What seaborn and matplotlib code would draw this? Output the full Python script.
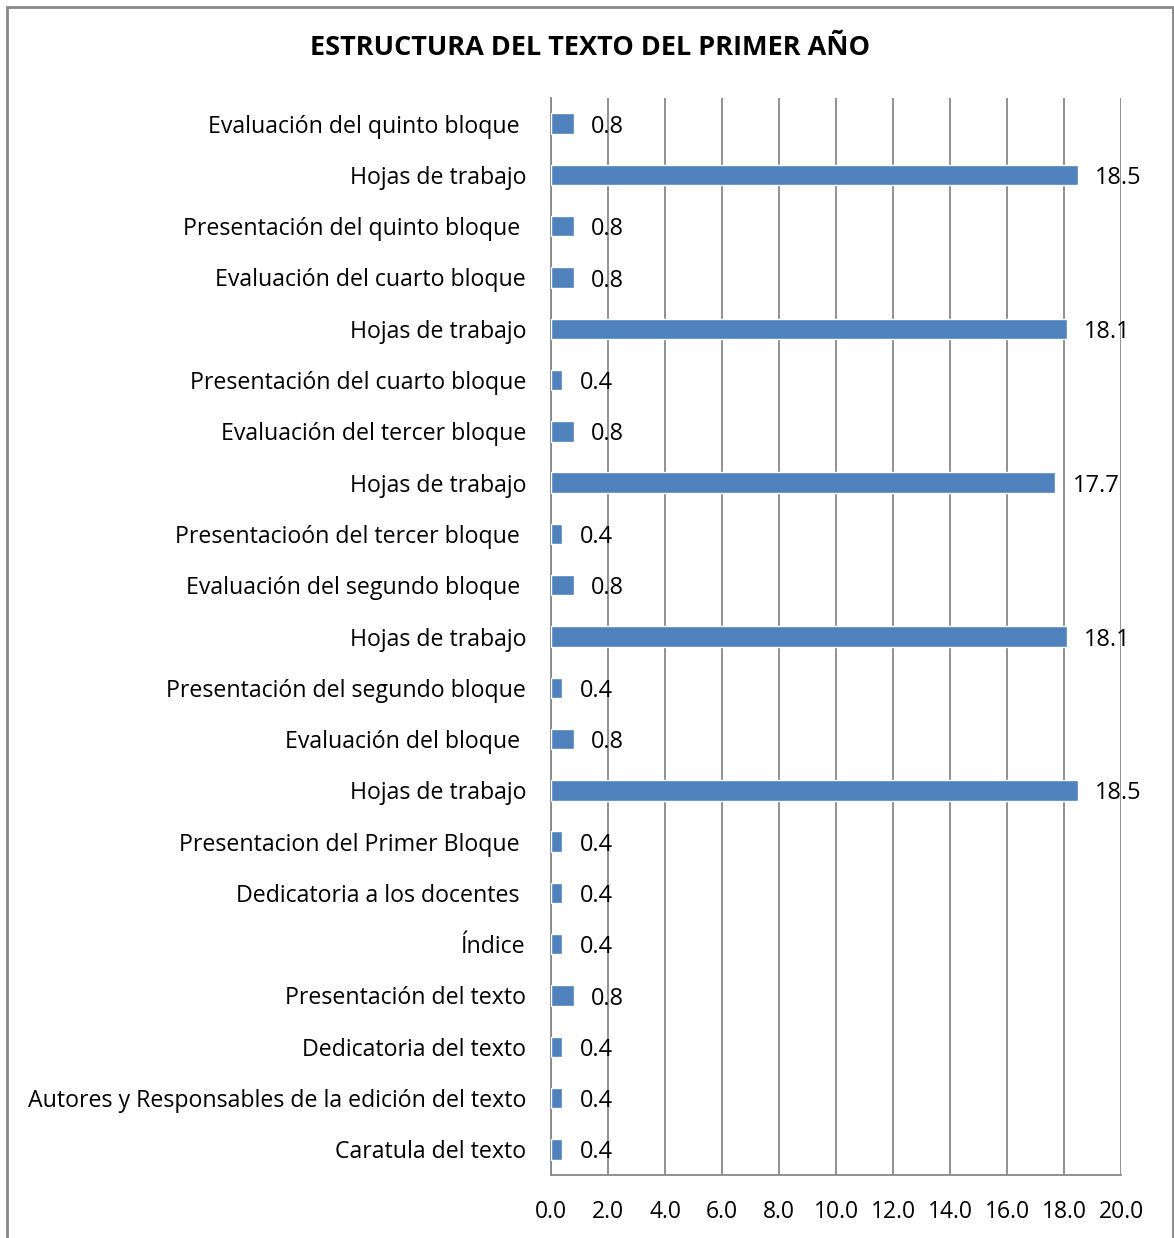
import pandas as pd
import matplotlib.pyplot as plt
import seaborn as sns
from matplotlib.patches import Rectangle

# Estructura del texto del primer año (porcentajes), de arriba hacia abajo
secciones = [
    "Evaluación del quinto bloque ",
    "Hojas de trabajo",
    "Presentación del quinto bloque ",
    "Evaluación del cuarto bloque",
    "Hojas de trabajo",
    "Presentación del cuarto bloque",
    "Evaluación del tercer bloque",
    "Hojas de trabajo",
    "Presentacioón del tercer bloque ",
    "Evaluación del segundo bloque ",
    "Hojas de trabajo",
    "Presentación del segundo bloque",
    "Evaluación del bloque ",
    "Hojas de trabajo",
    "Presentacion del Primer Bloque ",
    "Dedicatoria a los docentes ",
    "Índice",
    "Presentación del texto",
    "Dedicatoria del texto",
    "Autores y Responsables de la edición del texto",
    "Caratula del texto",
]
porcentajes = [0.8, 18.5, 0.8, 0.8, 18.1, 0.4, 0.8, 17.7, 0.4, 0.8, 18.1,
               0.4, 0.8, 18.5, 0.4, 0.4, 0.4, 0.8, 0.4, 0.4, 0.4]
ticks_x = [0, 2, 4, 6, 8, 10, 12, 14, 16, 18, 20]

sns.set_style("white")
plt.rcParams['font.family'] = ['Open Sans', 'DejaVu Sans']
plt.rcParams['text.color'] = 'black'
plt.rcParams['xtick.color'] = 'black'
plt.rcParams['ytick.color'] = 'black'

df = pd.DataFrame({'pos': range(len(secciones)), 'valor': porcentajes})

fig = plt.figure(figsize=(11.74, 12.38), dpi=100)
ax = fig.add_axes([551 / 1174, 1 - 1175 / 1238, 570 / 1174, (1175 - 98) / 1238])

sns.barplot(data=df, x='valor', y='pos', orient='h', color='#4F81BD',
            saturation=1, width=0.4, ax=ax, zorder=3)

ax.set_xlim(0, 20)
ax.set_xticks(ticks_x)
ax.set_xticklabels([f"{t:.1f}" for t in ticks_x], fontsize=16.5)
ax.set_yticks(range(len(secciones)))
ax.set_yticklabels(secciones, fontsize=16.7)
ax.set_xlabel('')
ax.set_ylabel('')

ax.grid(axis='x', color='#888888', linewidth=1.3, zorder=0)
ax.set_axisbelow(True)
for s in ['top', 'right']:
    ax.spines[s].set_visible(False)
for s in ['left', 'bottom']:
    ax.spines[s].set_color('#888888')
    ax.spines[s].set_linewidth(1.3)
ax.tick_params(axis='x', length=8, color='#888888', width=1.3, pad=10,
               labelcolor='black')
ax.tick_params(axis='y', length=0, pad=18, labelcolor='black')

for i, v in enumerate(porcentajes):
    ax.text(v + 0.6, i + 0.06, f"{v:.1f}", va='center', ha='left',
            fontsize=16.9, color='black', zorder=4)

fig.text(590 / 1174, 1 - 48 / 1238, "ESTRUCTURA DEL TEXTO DEL PRIMER AÑO",
         ha='center', va='center', fontsize=19.5, fontweight='bold', color='black')

fig.patches.append(Rectangle((7 / 1174, -0.01), (1173 - 7) / 1174, 1.01 - 7 / 1238,
                             transform=fig.transFigure, fill=False,
                             edgecolor='#888888', linewidth=2))

fig.savefig('out.png', dpi=100)
